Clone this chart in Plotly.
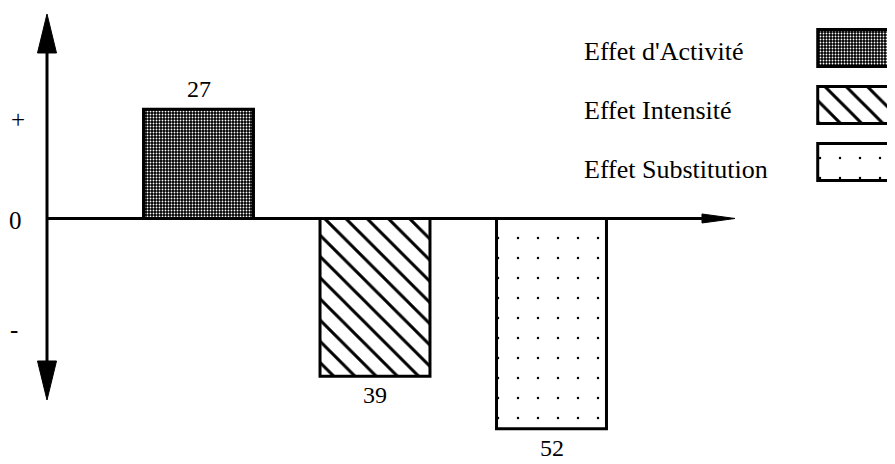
import plotly.graph_objects as go

# ---------------- data ----------------
categories = ["Effet d'Activité", "Effet Intensité", "Effet Substitution"]
values = [27, -39, -52]
axis_tick_labels = ["+", "0", "-"]

# ---------------- layout constants ----------------
PAGE_OFF = 8                 # default body margin of the html page
W, H = 895 - PAGE_OFF, 464 - PAGE_OFF
FONT = "Liberation Serif, Times New Roman, serif"
FS = 25
FS_VAL = 24
FS_LEG = 26

def px(x, y):
    """reference-picture pixel -> paper coordinates"""
    return (x - PAGE_OFF) / W, 1 - (y - PAGE_OFF) / H

patterns = [
    dict(shape=".", fgcolor="#ffffff", bgcolor="#000000", size=3, solidity=0.3, fillmode="replace"),
    dict(shape="\\", fgcolor="#000000", bgcolor="#ffffff", size=15, solidity=0.2, fillmode="replace"),
    dict(shape=".", fgcolor="#000000", bgcolor="#ffffff", size=20, solidity=0.012, fillmode="replace"),
]

fig = go.Figure()

# main bars (one trace per category to allow per-bar patterns)
for cat, val, pat in zip(categories, values, patterns):
    fig.add_trace(go.Bar(
        x=[cat], y=[val], width=0.623,
        marker=dict(color="white", pattern=pat, line=dict(color="black", width=3)),
        xaxis="x", yaxis="y", showlegend=False, hoverinfo="skip",
    ))

# legend swatches drawn as bars on a second small axis
for cat, pat in zip(categories, patterns):
    fig.add_trace(go.Bar(
        y=[cat], x=[2], orientation="h", width=0.65,
        marker=dict(color="white", pattern=pat, line=dict(color="black", width=3)),
        xaxis="x2", yaxis="y2", showlegend=False, hoverinfo="skip",
    ))

# axis geometry (in reference pixels)
k = 4.045                    # px per unit
zero_y = 218.5
cat_step = 176.5
cat0_x = 198.5
xspan = W / cat_step
x0 = -(cat0_x - PAGE_OFF) / cat_step
zy = zero_y - PAGE_OFF

annotations = []
# value labels
for cat, val in zip(categories, values):
    pos = val >= 0
    annotations.append(dict(x=cat, y=val, xref="x", yref="y", text=str(abs(val)),
                            showarrow=False,
                            yanchor="bottom" if pos else "top",
                            yshift=5 if pos else -4,
                            font=dict(family=FONT, size=FS_VAL, color="black")))

# +, 0, - labels
for lab, (lx, ly) in zip(axis_tick_labels, [(18, 119), (15, 221), (14, 329)]):
    ax_, ay_ = px(lx, ly)
    annotations.append(dict(x=ax_, y=ay_, xref="paper", yref="paper", text=lab,
                            showarrow=False, xanchor="center", yanchor="middle",
                            font=dict(family=FONT, size=FS, color="black")))

# legend texts
for cat, ly in zip(categories, [51, 111, 169]):
    ax_, ay_ = px(582, ly)
    annotations.append(dict(x=ax_, y=ay_, xref="paper", yref="paper", text=cat,
                            showarrow=False, xanchor="left", yanchor="middle",
                            font=dict(family=FONT, size=FS_LEG, color="black")))

def path(points):
    s = ""
    for i, (x, y) in enumerate(points):
        X, Y = px(x, y)
        s += ("M" if i == 0 else "L") + f"{X:.5f},{Y:.5f} "
    return s + "Z"

shapes = []
# vertical axis line
X1, Y1 = px(47, 50); X2, Y2 = px(47, 362)
shapes.append(dict(type="line", xref="paper", yref="paper", x0=X1, y0=Y1, x1=X2, y1=Y2,
                   line=dict(color="black", width=3)))
# horizontal axis line
X1, Y1 = px(47, zero_y); X2, Y2 = px(705, zero_y)
shapes.append(dict(type="line", xref="paper", yref="paper", x0=X1, y0=Y1, x1=X2, y1=Y2,
                   line=dict(color="black", width=3)))
# arrowheads
for pts in ([(47, 14), (37.5, 53), (56.5, 53)],
            [(37.5, 361), (56.5, 361), (47, 400)],
            [(702, 214), (735, 218.5), (702, 223)]):
    shapes.append(dict(type="path", xref="paper", yref="paper", path=path(pts),
                       fillcolor="black", line=dict(color="black", width=1)))

sw_left = (810 - PAGE_OFF) / W
sw_c0 = 48 - PAGE_OFF
sw_step = 57

fig.update_layout(
    width=W, height=H,
    margin=dict(l=0, r=0, t=0, b=0),
    paper_bgcolor="white", plot_bgcolor="white",
    barmode="overlay",
    xaxis=dict(domain=[0, 1], type="category", categoryorder="array", categoryarray=categories,
               range=[x0, x0 + xspan], visible=False, fixedrange=True),
    yaxis=dict(domain=[0, 1], range=[-(H - zy) / k, zy / k], visible=False,
               zeroline=False, fixedrange=True),
    xaxis2=dict(domain=[sw_left, 1], anchor="y2", range=[-0.1, 1], visible=False, fixedrange=True),
    yaxis2=dict(domain=[0, 1], anchor="x2", type="category", categoryorder="array",
                categoryarray=categories, range=[(H - sw_c0) / sw_step, -sw_c0 / sw_step],
                visible=False, fixedrange=True),
    annotations=annotations,
    shapes=shapes,
    showlegend=False,
)

fig.write_html("out.html")
